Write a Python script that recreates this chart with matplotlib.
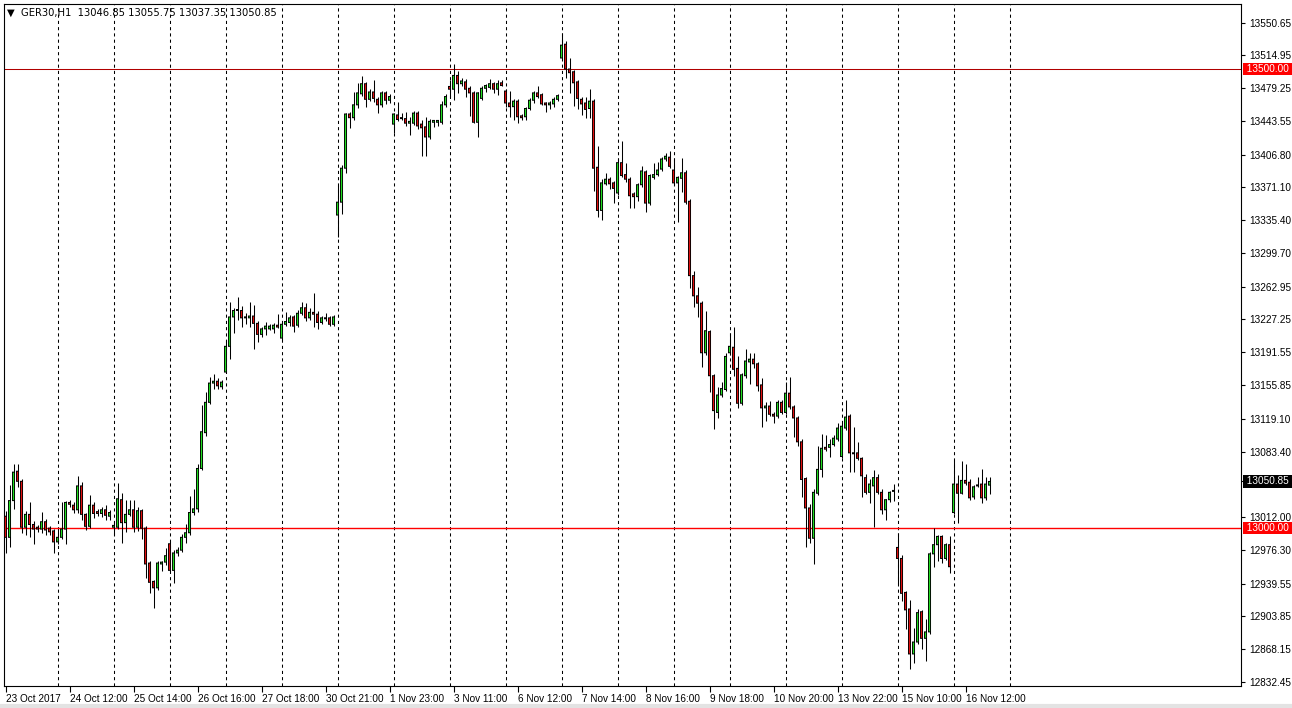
import matplotlib
matplotlib.use("Agg")
import matplotlib.pyplot as plt
import matplotlib.transforms as mtransforms
import numpy as np

# GER30 H1 candles (open, high, low, close)
opens = [13013, 12990, 13030, 13062, 13051, 13001, 13015, 13004, 13001, 12999,
         13007, 13000, 12997, 12985, 12990, 12999, 13028, 13025, 13020, 13046,
         13015, 13002, 13025, 13018, 13016, 13020, 13013, 13001, 13001, 13031,
         13006, 13015, 13020, 13001, 13019, 13000, 12962, 12942, 12935, 12961,
         12963, 12983, 12954, 12973, 12976, 12990, 12995, 13017, 13021, 13065,
         13104, 13137, 13158, 13160, 13154, 13170, 13198, 13230, 13237, 13237,
         13229, 13229, 13231, 13223, 13211, 13217, 13217, 13217, 13221, 13207,
         13222, 13224, 13230, 13221, 13234, 13240, 13229, 13235, 13233, 13224,
         13229, 13229, 13222, 13341, 13355, 13392, 13451, 13447, 13461, 13473,
         13484, 13467, 13475, 13467, 13461, 13474, 13466, 13440, 13450, 13446,
         13446, 13441, 13441, 13452, 13440, 13437, 13426, 13442, 13442, 13442,
         13461, 13481, 13478, 13493, 13484, 13486, 13479, 13474, 13442, 13468,
         13479, 13480, 13484, 13478, 13485, 13476, 13463, 13459, 13465, 13449,
         13448, 13457, 13466, 13474, 13472, 13463, 13461, 13462, 13467, 13512,
         13527, 13500, 13497, 13486, 13467, 13463, 13457, 13465, 13393, 13346,
         13375, 13380, 13376, 13365, 13398, 13385, 13380, 13364, 13361, 13374,
         13388, 13354, 13382, 13385, 13391, 13402, 13404, 13390, 13376, 13381,
         13387, 13356, 13275, 13253, 13245, 13191, 13214, 13166, 13126, 13145,
         13151, 13191, 13197, 13174, 13136, 13166, 13181, 13184, 13179, 13156,
         13131, 13133, 13124, 13122, 13137, 13126, 13147, 13132, 13120, 13094,
         13054, 13022, 12989, 13038, 13064, 13088, 13088, 13091, 13097, 13078,
         13109, 13122, 13082, 13082, 13076, 13055, 13039, 13046, 13055, 13039,
         13020, 13031, 13040, 12979, 12967, 12930, 12912, 12863, 12876, 12909,
         12880, 12887, 12972, 12982, 12991, 12967, 12982, 13017, 13048, 13038,
         13052, 13050, 13034, 13047, 13048, 13033, 13046.85]
highs = [13019, 13047, 13070, 13070, 13053, 13019, 13029, 13008, 13003, 13018,
         13010, 13002, 12999, 12999, 13028, 13030, 13031, 13028, 13057, 13050,
         13017, 13036, 13028, 13021, 13023, 13025, 13020, 13008, 13049, 13038,
         13031, 13031, 13031, 13023, 13021, 13002, 12964, 12944, 12964, 12964,
         12978, 12986, 12976, 12980, 12994, 13004, 13035, 13043, 13070, 13134,
         13148, 13165, 13168, 13163, 13161, 13205, 13246, 13240, 13252, 13242,
         13234, 13246, 13243, 13226, 13219, 13224, 13222, 13223, 13233, 13224,
         13235, 13232, 13232, 13238, 13246, 13245, 13240, 13256, 13236, 13231,
         13234, 13231, 13232, 13374, 13396, 13452, 13453, 13475, 13485, 13492,
         13486, 13478, 13488, 13469, 13476, 13476, 13473, 13452, 13464, 13452,
         13453, 13448, 13454, 13454, 13444, 13448, 13446, 13445, 13445, 13465,
         13473, 13488, 13506, 13498, 13490, 13489, 13481, 13476, 13475, 13481,
         13484, 13489, 13486, 13488, 13488, 13478, 13476, 13467, 13467, 13451,
         13459, 13468, 13476, 13482, 13474, 13464, 13465, 13469, 13473, 13539,
         13531, 13512, 13499, 13488, 13470, 13470, 13478, 13467, 13416, 13380,
         13387, 13382, 13378, 13403, 13422, 13398, 13382, 13366, 13376, 13394,
         13390, 13386, 13398, 13399, 13404, 13408, 13411, 13403, 13384, 13403,
         13390, 13358, 13280, 13263, 13247, 13237, 13216, 13168, 13154, 13159,
         13191, 13212, 13219, 13187, 13169, 13195, 13191, 13191, 13181, 13164,
         13137, 13139, 13126, 13140, 13140, 13159, 13165, 13134, 13122, 13097,
         13056, 13026, 13043, 13090, 13102, 13101, 13097, 13101, 13114, 13114,
         13140, 13124, 13110, 13094, 13078, 13059, 13054, 13063, 13059, 13043,
         13032, 13040, 13048, 12995, 12971, 12932, 12922, 12891, 12912, 12911,
         12901, 12974, 13000, 12992, 12992, 12984, 12991, 13074, 13058, 13073,
         13070, 13054, 13047, 13056, 13064, 13056, 13055.75]
lows = [12973, 12979, 13021, 13045, 12995, 12993, 12990, 12983, 12996, 12995,
        12992, 12992, 12973, 12983, 12988, 12983, 13023, 13017, 13016, 13009,
        12998, 13000, 13011, 13013, 13012, 13009, 13009, 12993, 12999, 12984,
        12996, 13013, 12996, 12997, 12988, 12946, 12929, 12913, 12933, 12953,
        12960, 12953, 12940, 12970, 12974, 12984, 12993, 13014, 13018, 13063,
        13100, 13135, 13151, 13151, 13151, 13169, 13184, 13212, 13227, 13219,
        13222, 13219, 13195, 13203, 13208, 13210, 13216, 13213, 13218, 13205,
        13220, 13220, 13214, 13219, 13232, 13226, 13227, 13219, 13217, 13222,
        13226, 13220, 13220, 13317, 13342, 13387, 13436, 13445, 13458, 13471,
        13459, 13465, 13464, 13452, 13459, 13462, 13463, 13430, 13443, 13444,
        13438, 13428, 13439, 13435, 13405, 13405, 13424, 13437, 13438, 13440,
        13459, 13469, 13466, 13474, 13481, 13470, 13449, 13441, 13426, 13466,
        13475, 13478, 13474, 13472, 13481, 13459, 13448, 13445, 13441, 13445,
        13445, 13455, 13463, 13468, 13461, 13453, 13456, 13459, 13465, 13510,
        13490, 13474, 13460, 13456, 13450, 13447, 13447, 13367, 13339, 13336,
        13374, 13369, 13354, 13363, 13382, 13377, 13349, 13349, 13356, 13372,
        13344, 13352, 13380, 13383, 13389, 13400, 13392, 13374, 13333, 13366,
        13353, 13262, 13241, 13230, 13175, 13189, 13148, 13108, 13120, 13143,
        13149, 13189, 13166, 13131, 13134, 13164, 13157, 13174, 13149, 13110,
        13117, 13122, 13114, 13120, 13124, 13124, 13130, 13099, 13090, 13034,
        12979, 12984, 12961, 13036, 13056, 13084, 13077, 13089, 13095, 13076,
        13107, 13061, 13061, 13074, 13034, 13037, 13027, 13001, 13037, 13015,
        13009, 13029, 13030, 12939, 12921, 12890, 12847, 12853, 12874, 12868,
        12855, 12885, 12958, 12964, 12962, 12965, 12951, 13015, 13006, 13037,
        13047, 13031, 13032, 13045, 13027, 13031, 13037.35]
closes = [12990, 13030, 13061, 13051, 13001, 13015, 13004, 12999, 12999, 13007,
          12998, 12996, 12985, 12990, 12999, 13028, 13026, 13020, 13046, 13015,
          13002, 13025, 13016, 13016, 13020, 13014, 13017, 13003, 13032, 13006,
          13015, 13020, 13001, 13019, 13000, 12961, 12941, 12935, 12962, 12963,
          12970, 12954, 12973, 12976, 12990, 12995, 13017, 13021, 13065, 13105,
          13137, 13158, 13160, 13155, 13159, 13198, 13230, 13237, 13237.5, 13229,
          13230, 13231, 13223, 13211, 13217, 13220, 13220, 13221, 13219, 13222,
          13225, 13229, 13220, 13234, 13240, 13229, 13235, 13233, 13224, 13229,
          13228, 13222, 13230, 13355, 13392, 13451, 13447, 13461, 13474, 13484,
          13467, 13475, 13468, 13461, 13474, 13466, 13470, 13451, 13445, 13446.5,
          13441, 13443, 13452, 13438, 13436, 13426, 13443, 13444, 13444, 13461,
          13470, 13478, 13493, 13484, 13487, 13478, 13474, 13442, 13474, 13479,
          13482, 13484, 13478, 13484, 13482, 13463, 13459, 13465, 13448, 13447,
          13457, 13466, 13474, 13470, 13462, 13461, 13463, 13467, 13471, 13526,
          13500, 13496, 13485, 13468, 13462, 13456, 13465, 13392, 13346, 13376,
          13380, 13375, 13370, 13398, 13384, 13380, 13362, 13361, 13374, 13389,
          13354, 13384, 13385, 13390, 13402, 13405, 13394, 13376, 13382, 13387,
          13355, 13275, 13253, 13245, 13191, 13215, 13166, 13128, 13145, 13152,
          13187, 13198, 13173, 13136, 13167, 13182, 13184, 13179, 13155, 13131,
          13133, 13124, 13122, 13137, 13126, 13147, 13132, 13120, 13094, 13053,
          13022, 12989, 13039, 13064, 13087, 13086, 13091, 13098, 13109, 13111,
          13121, 13082, 13081, 13076, 13057, 13039, 13048, 13055, 13039, 13020,
          13031, 13039, 13041, 12967, 12929, 12911, 12863, 12876, 12908, 12880,
          12887, 12972, 12982, 12991, 12967, 12982, 12958, 13048, 13038, 13052,
          13049, 13033, 13045, 13046, 13033, 13048, 13050.85]

time_labels = ["23 Oct 2017", "24 Oct 12:00", "25 Oct 14:00", "26 Oct 16:00",
               "27 Oct 18:00", "30 Oct 21:00", "1 Nov 23:00", "3 Nov 11:00",
               "6 Nov 12:00", "7 Nov 14:00", "8 Nov 16:00", "9 Nov 18:00",
               "10 Nov 20:00", "13 Nov 22:00", "15 Nov 10:00", "16 Nov 12:00"]
price_ticks = [13550.65, 13514.95, 13479.25, 13443.55, 13406.80, 13371.10,
               13335.40, 13299.70, 13262.95, 13227.25, 13191.55, 13155.85,
               13119.10, 13083.40, 13050.85, 13012.00, 12976.30, 12939.55,
               12903.85, 12868.15, 12832.45]
levels = [13500.00, 13000.00]

o = np.array(opens, dtype=float)
h = np.array(highs, dtype=float)
l = np.array(lows, dtype=float)
c = np.array(closes, dtype=float)
x = np.arange(len(c))

plt.rcParams['font.family'] = ['Liberation Sans', 'DejaVu Sans']

W, H = 1292, 708
fig = plt.figure(figsize=(W / 100, H / 100), dpi=100)
fig.patch.set_facecolor('w')
ax = fig.add_axes([4 / W, 22 / H, 1237 / W, 682 / H])
ax.set_xlim(-0.375, 308.875)   # 4 px per bar
ax.set_ylim(12828.1, 13570.8)
ppx = (13570.8 - 12828.1) / 682.0   # price per pixel

# vertical dashed grid every 14 bars
for g in range(13, 252, 14):
    ax.axvline(g, color='black', lw=0.75, ls=(0, (3, 3)), zorder=1)

# price levels
ax.axhline(levels[0], color='#b00000', lw=0.75, zorder=1.5)
ax.axhline(levels[1], color='#ff0000', lw=1.0, zorder=1.5)

# candles: wick, black body frame, coloured inside
ax.vlines(x, l, h, color='black', lw=0.75, zorder=2)
body_lo = np.minimum(o, c)
body_hi = np.maximum(o, c)
frame_h = np.maximum(body_hi - body_lo, ppx) + ppx
frames = ax.bar(x, frame_h, bottom=body_lo - ppx / 2, width=0.75,
                color='black', linewidth=0, zorder=3)
inner_h = np.maximum(body_hi - body_lo - ppx, 0)
cols = np.where(c >= o, '#22dd22', '#e01010')
inners = ax.bar(x, inner_h, bottom=body_lo + ppx / 2, width=0.3, color=cols,
                linewidth=0, zorder=4)
for p in list(frames) + list(inners):
    p.set_snap(False)

for s in ax.spines.values():
    s.set_color('black')
    s.set_linewidth(0.8)

# x axis
ax.set_xticks(range(0, 16 * len(time_labels), 16))
ax.set_xticklabels(time_labels, ha='left', fontsize=7.2)
ax.tick_params(axis='x', direction='out', length=4, width=0.8, pad=2)

# y axis on the right; the last price gets its own tag instead of a label
ax.yaxis.tick_right()
ax.set_yticks(price_ticks)
ax.set_yticklabels(['' if p == c[-1] else '%.2f' % p for p in price_ticks],
                   fontsize=7.2)
ax.tick_params(axis='y', direction='out', length=3, width=0.8, pad=3)

# price tags on the axis
tr = mtransforms.blended_transform_factory(ax.transAxes, ax.transData)
for lv in levels:
    ax.text(1.0022, lv, ' %.2f ' % lv, transform=tr, ha='left', va='center',
            fontsize=7.2, color='white', zorder=5,
            bbox=dict(boxstyle='square,pad=0.12', fc='#ff0000', ec='none'))
ax.text(1.0022, c[-1], ' %.2f ' % c[-1], transform=tr, ha='left', va='center',
        fontsize=7.2, color='white', zorder=5,
        bbox=dict(boxstyle='square,pad=0.12', fc='black', ec='none'))

# header
hdr = u'\u25bc  GER30,H1  %.2f %.2f %.2f %.2f' % (o[-1], h[-1], l[-1], c[-1])
fig.text(7 / W, 1 - 13 / H, hdr, fontsize=7.2, va='center', ha='left',
         family=['DejaVu Sans'])

# light window edge
fig.add_artist(plt.Line2D([0, 1], [2 / H, 2 / H], transform=fig.transFigure,
                          color='#e3e3e3', lw=3))

fig.savefig('out.png', dpi=100)
